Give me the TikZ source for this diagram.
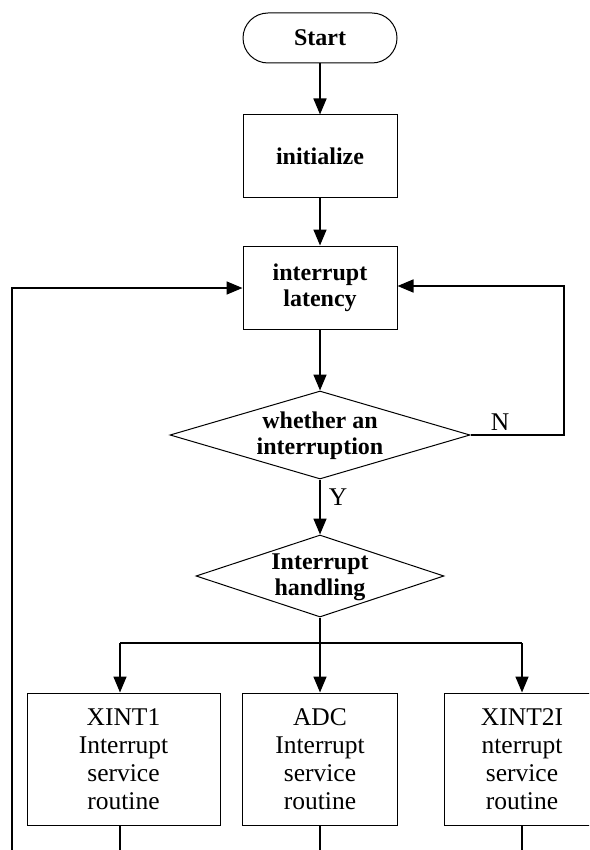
\documentclass[tikz,border=0pt]{standalone}
\usepackage{fontspec}
\setmainfont{Liberation Serif}
\usetikzlibrary{shapes.geometric,arrows.meta}
\begin{document}
\begin{tikzpicture}[x=1pt,y=1pt,
  boldtxt/.style={font=\fontsize{24}{26}\selectfont\bfseries, align=center},
  regtxt/.style={font=\fontsize{25.5}{28}\selectfont, align=center},
  box/.style={draw, line width=1pt, rectangle, inner sep=0pt},
  dia/.style={draw, line width=1pt, diamond, inner sep=0pt},
  conn/.style={line width=1.6pt, -{Triangle[length=16pt,width=13pt]}},
  line/.style={line width=1.6pt}]
\useasboundingbox (0,0) rectangle (589,-850);
\clip (0,0) rectangle (589,-850);
\node[box, rounded corners=25pt, minimum width=154pt, minimum height=50pt, boldtxt] (start) at (320,-38) {Start};
\node[box, minimum width=154pt, minimum height=83pt, boldtxt] (init) at (320,-156.5) {initialize};
\node[box, minimum width=154pt, minimum height=83pt, boldtxt] (wait) at (320,-287.5) {interrupt\\latency};
\node[dia, minimum width=300pt, minimum height=88pt] (dec) at (320,-435) {};
\node[boldtxt] (dect) at (320,-436) {whether an\\interruption};
\node[dia, minimum width=248pt, minimum height=82pt] (hand) at (320,-576) {};
\node[boldtxt] (handt) at (320,-577) {Interrupt\\handling};
\node[box, minimum width=193pt, minimum height=132pt, regtxt] (isr1) at (123.5,-759) {XINT1\\Interrupt\\service\\routine};
\node[box, minimum width=155pt, minimum height=132pt, regtxt] (isr2) at (320,-759) {ADC\\Interrupt\\service\\routine};
\node[box, minimum width=155pt, minimum height=132pt, regtxt] (isr3) at (522,-759) {XINT2I\\nterrupt\\service\\routine};
\node[regtxt, anchor=center] (nlab) at (500,-422) {N};
\node[regtxt, anchor=center] (ylab) at (338,-497) {Y};
\coordinate (br) at (320,-643);
\coordinate (brL) at (120,-643);
\coordinate (brR) at (522,-643);
\coordinate (rc1) at (564,-435);
\coordinate (rc2) at (564,-286);
\coordinate (lc1) at (12,-850);
\coordinate (lc2) at (12,-288);
\coordinate (b1) at (120,-850);
\coordinate (b2) at (320,-850);
\coordinate (b3) at (522,-850);
\draw[conn] (start) -- (init);
\draw[conn] (init) -- (wait);
\draw[conn] (wait) -- (dec);
\draw[conn] (dec) -- (hand);
\draw[conn] (dec.east) -- (rc1) -- (rc2) -- (wait.east |- rc2);
\draw[conn] (lc1) -- (lc2) -- (wait.west |- lc2);
\draw[line] (hand.south) -- (br);
\draw[line] (brL) -- (brR);
\draw[conn] (brL) -- (isr1.north -| brL);
\draw[conn] (br) -- (isr2.north);
\draw[conn] (brR) -- (isr3.north);
\draw[line] (isr1.south -| b1) -- (b1);
\draw[line] (isr2.south) -- (b2);
\draw[line] (isr3.south) -- (b3);
\end{tikzpicture}
\end{document}
